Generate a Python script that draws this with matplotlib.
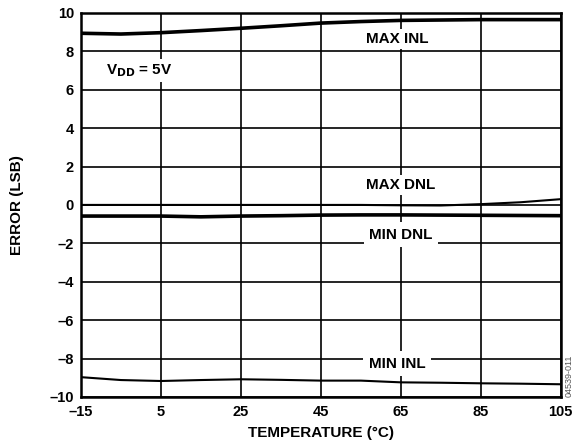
import matplotlib
matplotlib.use('Agg')
import matplotlib.pyplot as plt

plt.rcParams['font.family'] = ['Liberation Sans', 'DejaVu Sans']
plt.rcParams['font.weight'] = 'bold'

# temperature points (degC)
temp = [-15, -5, 5, 15, 25, 35, 45, 55, 65, 75, 85, 95, 105]

max_inl = [8.94, 8.90, 8.97, 9.08, 9.20, 9.33, 9.47, 9.55, 9.61, 9.63, 9.65, 9.65, 9.65]
max_dnl = [0.0, 0.0, 0.0, 0.0, 0.0, 0.0, 0.0, 0.0, -0.02, -0.03, 0.04, 0.14, 0.30]
min_dnl = [-0.58, -0.58, -0.58, -0.62, -0.58, -0.56, -0.53, -0.52, -0.52, -0.53, -0.54, -0.55, -0.56]
min_inl = [-8.97, -9.12, -9.17, -9.12, -9.08, -9.11, -9.15, -9.15, -9.24, -9.26, -9.29, -9.31, -9.34]

xticks = [-15, 5, 25, 45, 65, 85, 105]
xtick_labels = ['–15', '5', '25', '45', '65', '85', '105']
yticks = [-10, -8, -6, -4, -2, 0, 2, 4, 6, 8, 10]
ytick_labels = ['–10', '–8', '–6', '–4', '–2', '0', '2', '4', '6', '8', '10']

fig = plt.figure(figsize=(5.74, 4.45), dpi=100)
ax = fig.add_axes([0.141, 0.108, 0.836, 0.863])

ax.set_xlim(-15, 105)
ax.set_ylim(-10, 10)
ax.set_xticks(xticks)
ax.set_xticklabels(xtick_labels)
ax.set_yticks(yticks)
ax.set_yticklabels(ytick_labels)
ax.tick_params(length=0, labelsize=10.5)
ax.tick_params(axis='x', pad=6)
ax.tick_params(axis='y', pad=5)
ax.grid(True, color='black', linewidth=1.2)
ax.set_axisbelow(True)
for s in ax.spines.values():
  s.set_linewidth(1.8)

ax.plot(temp, max_inl, color='black', linewidth=2.6, zorder=3)
ax.plot(temp, max_dnl, color='black', linewidth=1.5, zorder=3)
ax.plot(temp, min_dnl, color='black', linewidth=2.6, zorder=3)
ax.plot(temp, min_inl, color='black', linewidth=1.5, zorder=3)

fs = 11
box = dict(facecolor='white', edgecolor='none', pad=2)
ax.text(64, 8.65, 'MAX INL', ha='center', va='center', fontsize=fs, bbox=box, zorder=4)
ax.text(65, 1.04, 'MAX DNL', ha='center', va='center', fontsize=fs, bbox=box, zorder=4)
ax.text(65, -1.56, 'MIN DNL', ha='center', va='center', fontsize=fs,
        bbox=dict(facecolor='white', edgecolor='none', pad=4), zorder=4)
ax.text(64, -8.28, 'MIN INL', ha='center', va='center', fontsize=fs,
        bbox=dict(facecolor='white', edgecolor='none', pad=4), zorder=4)
ax.text(-8.8, 7.0, r'V$_{\mathbf{DD}}$ = 5V', ha='left', va='center', fontsize=fs, bbox=box, zorder=4)

ax.set_xlabel('TEMPERATURE (°C)', fontsize=11, fontweight='bold', labelpad=5)
ax.set_ylabel('ERROR (LSB)', fontsize=11, fontweight='bold', labelpad=18)

fig.text(0.992, 0.108, '04539-011', rotation=90, ha='center', va='bottom',
         fontsize=6.5, fontweight='normal', color='#555555')

fig.savefig('out.png', dpi=100)
